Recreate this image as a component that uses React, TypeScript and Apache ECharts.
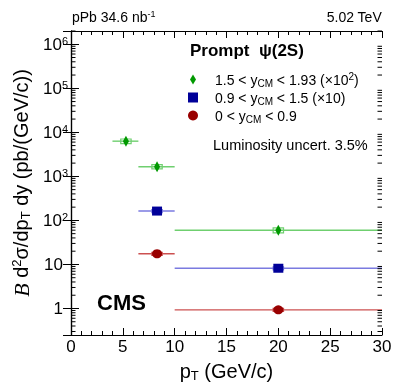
import React, { useEffect, useRef } from "react";
import * as echarts from "echarts";

// ---- data ----
// forward rapidity 1.5 < y_CM < 1.93 (scaled x10^2)
const fwdPt = [5.3, 8.3, 20];
const fwdLow = [4, 6.5, 10];
const fwdHigh = [6.5, 10, 30];
const fwdVal = [6300, 1660, 60];
const fwdStat = [0.1, 0.1, 0.14];
const fwdSyst = [0.12, 0.11, 0.13];
// mid rapidity 0.9 < y_CM < 1.5 (scaled x10)
const midPt = [8.3, 20];
const midLow = [6.5, 10];
const midHigh = [10, 30];
const midVal = [163, 8.2];
const midStat = [0.06, 0.08];
const midSyst = [0.08, 0.08];
// backward 0 < y_CM < 0.9
const bwdPt = [8.3, 20];
const bwdLow = [6.5, 10];
const bwdHigh = [10, 30];
const bwdVal = [17.5, 0.93];
const bwdStat = [0.06, 0.08];
const bwdSyst = [0.08, 0.08];

const seriesNames = ["fwd", "mid", "bwd"];
const legendLabels = [
  "1.5 < y{sub|CM} < 1.93 (×10{sup|2})",
  "0.9 < y{sub|CM} < 1.5 (×10)",
  "0 < y{sub|CM} < 0.9",
];
const xTickLabels = ["0", "5", "10", "15", "20", "25", "30"];
const yMin = 0.25;
const yMax = 2e6;
const xMin = 0;
const xMax = 30;

const FONT = "Liberation Sans";
const diamond = "path://M0,-5L3,0L0,5L-3,0Z";

const rows = (pt: number[], v: number[], lo: number[], hi: number[], st: number[], sy: number[]) =>
  pt.map((p, i) => [p, v[i], lo[i], hi[i], st[i], sy[i]]);

function errRender(lineColor: string, markColor: string) {
  return (params: any, api: any) => {
    const x = api.value(0);
    const y = api.value(1);
    const lo = api.value(2);
    const hi = api.value(3);
    const st = api.value(4);
    const sy = api.value(5);
    const a = api.coord([lo, y]);
    const b = api.coord([hi, y]);
    const s1 = api.coord([x, y * (1 + st)]);
    const s2 = api.coord([x, y * (1 - st)]);
    const b1 = api.coord([x - 0.5, y * (1 + sy)]);
    const b2 = api.coord([x + 0.5, y * (1 - sy)]);
    return {
      type: "group",
      children: [
        { type: "line", shape: { x1: a[0], y1: a[1], x2: b[0], y2: b[1] }, style: { stroke: lineColor, lineWidth: 1.4 } },
        {
          type: "rect",
          shape: { x: b1[0], y: b1[1], width: b2[0] - b1[0], height: b2[1] - b1[1] },
          style: { fill: "none", stroke: lineColor, lineWidth: 1.2 },
        },
        { type: "line", shape: { x1: s1[0], y1: s1[1], x2: s2[0], y2: s2[1] }, style: { stroke: markColor, lineWidth: 1.5 } },
      ],
    };
  };
}

// minor tick values on the log axis (2..9 within each decade)
const yMinorTicks: number[] = [];
for (let e = -1; e <= 6; e++) {
  for (let m = 2; m <= 9; m++) {
    const v = m * Math.pow(10, e);
    if (v >= yMin && v <= yMax) yMinorTicks.push(v);
  }
}

export default function App() {
  const ref = useRef<HTMLDivElement>(null);
  useEffect(() => {
    if (!ref.current) return;
    const chart = echarts.init(ref.current, null, { renderer: "svg" });
    const green = "#009900", greenL = "#6fcf6f";
    const blue = "#000099", blueL = "#7a7ae0";
    const red = "#990000", redL = "#cc5050";
    const supStyle = { fontSize: 10, verticalAlign: "top", lineHeight: 9, fontFamily: FONT, color: "#000" };
    const subStyle = { fontSize: 10, verticalAlign: "bottom", lineHeight: 7, fontFamily: FONT, color: "#000" };

    const yAxisCommon = {
      type: "log",
      logBase: 10,
      min: yMin,
      max: yMax,
      axisLine: { lineStyle: { color: "#000", width: 1.2 } },
      axisTick: { show: true, inside: true, length: 8, lineStyle: { color: "#000" } },
      splitLine: { show: false },
    };

    const option: any = {
      animation: false,
      textStyle: { fontFamily: FONT, color: "#000" },
      grid: { left: 71, right: 17, top: 31, bottom: 49, containLabel: false, outerBoundsMode: "none" },
      xAxis: [
        {
          type: "value",
          min: xMin,
          max: xMax,
          interval: 5,
          position: "bottom",
          axisLine: { lineStyle: { color: "#000", width: 1.2 } },
          axisTick: { inside: true, length: 7, lineStyle: { color: "#000" } },
          minorTick: { show: true, splitNumber: 5, length: 4, lineStyle: { color: "#000" } },
          splitLine: { show: false },
          axisLabel: {
            margin: 3,
            fontSize: 17,
            color: "#000",
            fontFamily: FONT,
            formatter: (v: number) => xTickLabels[Math.round(v / 5)] ?? "",
          },
          name: "p{sub|T} (GeV/c)",
          nameLocation: "middle",
          nameGap: 23,
          nameTextStyle: {
            fontSize: 20,
            fontFamily: FONT,
            color: "#000",
            lineHeight: 22,
            rich: { sub: { fontSize: 13, verticalAlign: "bottom", lineHeight: 10, fontFamily: FONT, color: "#000" } },
          },
        },
        {
          type: "value",
          min: xMin,
          max: xMax,
          interval: 5,
          position: "top",
          axisLine: { lineStyle: { color: "#000", width: 1.2 } },
          axisTick: { inside: true, length: 7, lineStyle: { color: "#000" } },
          minorTick: { show: true, splitNumber: 5, length: 4, lineStyle: { color: "#000" } },
          splitLine: { show: false },
          axisLabel: { show: false },
        },
      ],
      yAxis: [
        {
          ...yAxisCommon,
          position: "left",
          axisLabel: {
            margin: 3,
            fontSize: 17,
            color: "#000",
            fontFamily: FONT,
            lineHeight: 18,
            showMinLabel: false,
            showMaxLabel: false,
            formatter: (v: number) => {
              const e = Math.round(Math.log10(v));
              if (Math.abs(Math.log10(v) - e) > 1e-6) return "";
              if (e === 0) return "{p|1}";
              if (e === 1) return "{p|10}";
              return "10{sup|" + e + "}";
            },
            rich: {
              sup: { fontSize: 11, verticalAlign: "top", lineHeight: 10, fontFamily: FONT, color: "#000" },
              p: { fontSize: 17, padding: [0, 5, 0, 0], fontFamily: FONT, color: "#000" },
            },
          },
          name: "{b|B} d{sup|2}σ/dp{sub|T} dy (pb/(GeV/c))",
          nameLocation: "middle",
          nameRotate: 90,
          nameGap: 36,
          nameTextStyle: {
            fontSize: 20,
            fontFamily: FONT,
            color: "#000",
            lineHeight: 22,
            rich: {
              b: { fontSize: 22, fontStyle: "italic", fontFamily: "Liberation Serif", color: "#000" },
              sup: { fontSize: 13, verticalAlign: "top", lineHeight: 12, fontFamily: FONT, color: "#000" },
              sub: { fontSize: 13, verticalAlign: "bottom", lineHeight: 10, fontFamily: FONT, color: "#000" },
            },
          },
        },
        {
          ...yAxisCommon,
          position: "right",
          axisLabel: { show: false },
        },
      ],
      legend: {
        show: true,
        orient: "vertical",
        left: 188,
        top: 71,
        itemWidth: 10,
        itemHeight: 10,
        itemGap: 1,
        padding: 0,
        data: [
          { name: "fwd", icon: diamond },
          { name: "mid", icon: "rect" },
          { name: "bwd", icon: "circle" },
        ],
        formatter: (name: string) => legendLabels[seriesNames.indexOf(name)],
        textStyle: {
          fontSize: 14,
          fontFamily: FONT,
          color: "#000",
          lineHeight: 17,
          padding: [0, 0, 0, 12],
          rich: { sub: subStyle, sup: supStyle },
        },
      },
      graphic: [
        {
          type: "text",
          left: 72,
          top: 9,
          style: {
            text: "pPb 34.6 nb{sup|-1}",
            fontSize: 14,
            fontFamily: FONT,
            fill: "#000",
            lineHeight: 16,
            rich: { sup: { fontSize: 9, verticalAlign: "top", lineHeight: 8, fontFamily: FONT, fill: "#000" } },
          },
        },
        {
          type: "text",
          right: 17,
          top: 10,
          style: { text: "5.02 TeV", fontSize: 14, fontFamily: FONT, fill: "#000" },
        },
        {
          type: "text",
          left: 190,
          top: 42,
          style: { text: "Prompt  ψ(2S)", fontSize: 17, fontWeight: "bold", fontFamily: FONT, fill: "#000" },
        },
        {
          type: "text",
          left: 213,
          top: 137,
          style: { text: "Luminosity uncert. 3.5%", fontSize: 14.5, fontFamily: FONT, fill: "#000" },
        },
        {
          type: "text",
          left: 97,
          top: 291,
          style: { text: "CMS", fontSize: 22, fontWeight: "bold", fontFamily: FONT, fill: "#000" },
        },
      ],
      series: [
        {
          type: "custom",
          name: "fwdErr",
          renderItem: errRender(greenL, green),
          data: rows(fwdPt, fwdVal, fwdLow, fwdHigh, fwdStat, fwdSyst),
          encode: { x: 0, y: 1 },
          z: 2,
        },
        {
          type: "custom",
          name: "midErr",
          renderItem: errRender(blueL, blue),
          data: rows(midPt, midVal, midLow, midHigh, midStat, midSyst),
          encode: { x: 0, y: 1 },
          z: 2,
        },
        {
          type: "custom",
          name: "bwdErr",
          renderItem: errRender(redL, red),
          data: rows(bwdPt, bwdVal, bwdLow, bwdHigh, bwdStat, bwdSyst),
          encode: { x: 0, y: 1 },
          z: 2,
        },
        {
          type: "scatter",
          name: "fwd",
          symbol: diamond,
          symbolSize: [6, 11],
          itemStyle: { color: green, opacity: 1 },
          data: fwdPt.map((p, i) => [p, fwdVal[i]]),
          z: 3,
        },
        {
          type: "scatter",
          name: "mid",
          symbol: "rect",
          symbolSize: [10, 9],
          itemStyle: { color: blue, opacity: 1 },
          data: midPt.map((p, i) => [p, midVal[i]]),
          z: 3,
        },
        {
          type: "scatter",
          name: "bwd",
          symbol: "circle",
          symbolSize: [10, 9],
          itemStyle: { color: red, opacity: 1 },
          data: bwdPt.map((p, i) => [p, bwdVal[i]]),
          z: 3,
        },
        {
          type: "custom",
          name: "minorTicks",
          silent: true,
          renderItem: (params: any, api: any) => {
            const children: any[] = [];
            yMinorTicks.forEach((v) => {
              const l = api.coord([xMin, v]);
              const r = api.coord([xMax, v]);
              children.push({ type: "line", shape: { x1: l[0], y1: l[1], x2: l[0] + 4.5, y2: l[1] }, style: { stroke: "#000", lineWidth: 1 } });
              children.push({ type: "line", shape: { x1: r[0], y1: r[1], x2: r[0] - 4.5, y2: r[1] }, style: { stroke: "#000", lineWidth: 1 } });
            });
            return { type: "group", children };
          },
          data: [[15, 100, 10, 20, 0.1, 0.1]],
          encode: { x: 0, y: 1 },
          z: 4,
        },
      ],
    };
    chart.setOption(option);
    return () => chart.dispose();
  }, []);
  return <div ref={ref} style={{ position: "fixed", left: 0, top: 0, width: 399, height: 384 }} />;
}
